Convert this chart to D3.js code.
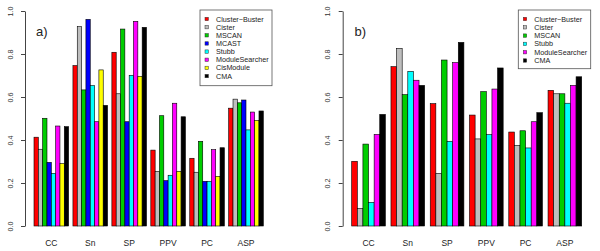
<!DOCTYPE html>
<html>
<head>
<meta charset="utf-8">
<script src="https://cdn.jsdelivr.net/npm/d3@7"></script>
<style>
  body { margin: 0; background: #fff; }
  svg  { display: block; font-family: "Liberation Sans", Arial, sans-serif; }
</style>
</head>
<body>
<svg id="chart" width="600" height="251"></svg>
<script>
// ── Data ────────────────────────────────────────────────────────────────────
const categories = ["CC", "Sn", "SP", "PPV", "PC", "ASP"];
const yTicks     = [0, 0.2, 0.4, 0.6, 0.8, 1.0];

// Panel a)
const methodsA = ["Cluster−Buster", "Cister", "MSCAN", "MCAST", "Stubb", "ModuleSearcher", "CisModule", "CMA"];
const clusterBusterA  = [0.413, 0.746, 0.808, 0.353, 0.315, 0.548];
const cisterA         = [0.357, 0.927, 0.615, 0.254, 0.250, 0.590];
const mscanA          = [0.501, 0.633, 0.916, 0.513, 0.394, 0.573];
const mcastA          = [0.296, 0.961, 0.485, 0.211, 0.208, 0.586];
const stubbA          = [0.245, 0.653, 0.701, 0.236, 0.208, 0.447];
const moduleSearchA   = [0.465, 0.485, 0.952, 0.571, 0.355, 0.530];
const cisModuleA      = [0.290, 0.726, 0.696, 0.254, 0.231, 0.491];
const cmaA            = [0.462, 0.561, 0.924, 0.508, 0.364, 0.535];
const valuesA = [clusterBusterA, cisterA, mscanA, mcastA, stubbA, moduleSearchA, cisModuleA, cmaA];

// Panel b)
const methodsB = ["Cluster−Buster", "Cister", "MSCAN", "Stubb", "ModuleSearcher", "CMA"];
const clusterBusterB  = [0.301, 0.741, 0.569, 0.516, 0.437, 0.631];
const cisterB         = [0.082, 0.826, 0.245, 0.405, 0.375, 0.615];
const mscanB          = [0.381, 0.611, 0.772, 0.625, 0.443, 0.615];
const stubbB          = [0.110, 0.719, 0.394, 0.425, 0.363, 0.571];
const moduleSearchB   = [0.426, 0.678, 0.760, 0.637, 0.485, 0.654];
const cmaB            = [0.519, 0.654, 0.854, 0.735, 0.527, 0.694];
const valuesB = [clusterBusterB, cisterB, mscanB, stubbB, moduleSearchB, cmaB];

// R palette colours per method
const methodColor = {
  "Cluster−Buster": "#FF0000",
  "Cister":         "#BEBEBE",
  "MSCAN":          "#00CD00",
  "MCAST":          "#0000FF",
  "Stubb":          "#00FFFF",
  "ModuleSearcher": "#FF00FF",
  "CisModule":      "#FFFF00",
  "CMA":            "#000000"
};

// ── Layout ──────────────────────────────────────────────────────────────────
const svg = d3.select("#chart");
const y = d3.scaleLinear().domain([0, 1]).range([226, 11]);

function drawPanel(p) {
  const g = svg.append("g");

  const x = d3.scaleBand().domain(categories).range([p.x0, p.x1])
    .paddingInner(1 / (p.methods.length + 1)).paddingOuter(0);
  const xi = d3.scaleBand().domain(p.methods).range([0, x.bandwidth()]).padding(0);

  const rows = [];
  p.methods.forEach((m, mi) => categories.forEach((c, ci) =>
    rows.push({ method: m, cat: c, value: p.values[mi][ci] })));

  g.selectAll("rect.bar")
    .data(rows)
    .join("rect")
    .attr("class", "bar")
    .attr("x", d => x(d.cat) + xi(d.method))
    .attr("y", d => y(d.value))
    .attr("width", xi.bandwidth())
    .attr("height", d => y(0) - y(d.value))
    .attr("fill", d => methodColor[d.method])
    .attr("stroke", "#000")
    .attr("stroke-width", 0.6);

  // Left axis (R style: rotated labels)
  const ax = g.append("g").attr("transform", `translate(${p.axisX},0)`)
    .call(d3.axisLeft(y).tickValues(yTicks).tickFormat(d3.format(".1f"))
      .tickSize(4).tickSizeOuter(0));
  ax.select(".domain").attr("stroke", "#444");
  ax.selectAll(".tick line").attr("stroke", "#444");
  ax.selectAll(".tick text")
    .attr("transform", "rotate(-90)")
    .attr("x", 0).attr("y", -12.5).attr("dy", 0)
    .attr("text-anchor", "middle")
    .attr("font-size", "7.2px")
    .attr("fill", "#333");

  // Category labels
  g.selectAll("text.cat")
    .data(categories)
    .join("text")
    .attr("class", "cat")
    .attr("x", d => x(d) + x.bandwidth() / 2)
    .attr("y", 246)
    .attr("text-anchor", "middle")
    .attr("font-size", "8.5px")
    .attr("fill", "#222")
    .text(d => d);

  // Panel tag
  g.append("text").attr("x", p.tagX).attr("y", 35.5)
    .attr("font-size", "13px").attr("fill", "#222").text(p.tag);

  // Legend
  const L = p.legend;
  const lg = g.append("g");
  lg.append("rect")
    .attr("x", L.x).attr("y", L.y).attr("width", L.w)
    .attr("height", L.h)
    .attr("fill", "#fff").attr("stroke", "#555").attr("stroke-width", 0.8);
  p.methods.forEach((m, i) => {
    const cy = L.y + 9 + i * L.step;
    lg.append("rect")
      .attr("x", L.x + 5).attr("y", cy - 1.7).attr("width", 3.4).attr("height", 3.4)
      .attr("fill", methodColor[m]).attr("stroke", "#333").attr("stroke-width", 0.5);
    lg.append("text")
      .attr("x", L.x + 16).attr("y", cy + 2.5)
      .attr("font-size", "7.2px").attr("fill", "#222")
      .text(m);
  });
}

drawPanel({
  x0: 34, x1: 263.3, axisX: 25, tag: "a)", tagX: 36,
  methods: methodsA, values: valuesA,
  legend: { x: 200, y: 10, w: 72, h: 75.7, step: 8.15 }
});

drawPanel({
  x0: 351.7, x1: 581.7, axisX: 342.7, tag: "b)", tagX: 354.5,
  methods: methodsB, values: valuesB,
  legend: { x: 518.3, y: 10, w: 72.4, h: 58.7, step: 8.3 }
});
</script>
</body>
</html>
